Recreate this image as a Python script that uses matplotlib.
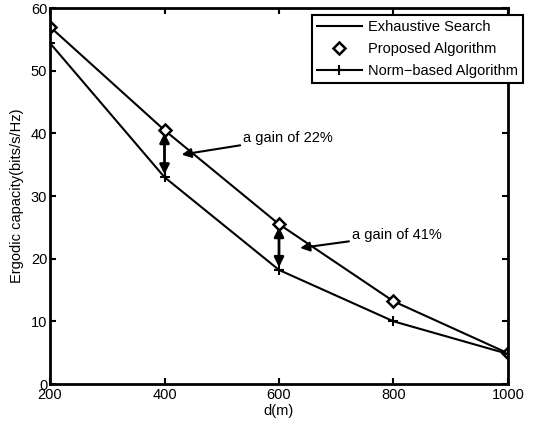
import matplotlib
matplotlib.use("Agg")
import matplotlib.pyplot as plt

d = [200, 400, 600, 800, 1000]
exhaustive = [57.0, 40.5, 25.5, 13.2, 4.9]
proposed = [57.0, 40.5, 25.5, 13.2, 4.9]
norm_based = [54.4, 33.0, 18.2, 10.0, 4.8]

plt.rcParams['font.family'] = ['Liberation Sans', 'DejaVu Sans']
fig = plt.figure(figsize=(5.43, 4.26), dpi=100)
ax = fig.add_axes([50/543, 1-384/426, 458/543, 376/426])

ax.plot(d, exhaustive, color='black', lw=1.5, label='Exhaustive Search')
ax.plot(d, proposed, linestyle='none', marker='D', markersize=6, markerfacecolor='white',
        markeredgecolor='black', markeredgewidth=1.8, label='Proposed Algorithm')
ax.plot(d, norm_based, color='black', lw=1.5, marker='+', markersize=7, markeredgewidth=1.5,
        label='Norm\u2212based Algorithm')

ax.set_xlim(200, 1000)
ax.set_ylim(0, 60)
ax.set_xticks(d)
ax.set_yticks([0, 10, 20, 30, 40, 50, 60])
ax.tick_params(direction='in', length=4, width=1.5, labelsize=10.5, top=True, right=True, pad=2)
ax.tick_params(axis='x', pad=3)
for s in ax.spines.values():
    s.set_linewidth(2)
ax.set_xlabel('d(m)', fontsize=10.5, labelpad=1)
ax.set_ylabel('Ergodic capacity(bits/s/Hz)', fontsize=10.5, labelpad=5)

# double arrows
ax.annotate('', xy=(400, norm_based[1]), xytext=(400, exhaustive[1]),
            arrowprops=dict(arrowstyle='<|-|>', color='black', lw=2, mutation_scale=14))
ax.annotate('', xy=(600, norm_based[2]), xytext=(600, exhaustive[2]),
            arrowprops=dict(arrowstyle='<|-|>', color='black', lw=2, mutation_scale=14))

ax.annotate('a gain of 22%', xy=(430, 36.6), xytext=(537, 39.3), fontsize=10.5,
            va='center', ha='left',
            arrowprops=dict(arrowstyle='-|>', color='black', lw=1.5, mutation_scale=14, shrinkA=0, shrinkB=0))
ax.annotate('a gain of 41%', xy=(637, 21.7), xytext=(727, 23.8), fontsize=10.5,
            va='center', ha='left',
            arrowprops=dict(arrowstyle='-|>', color='black', lw=1.5, mutation_scale=14, shrinkA=0, shrinkB=0))

leg = ax.legend(loc='upper right', bbox_to_anchor=(523/543, 1-15/426), bbox_transform=fig.transFigure,
                fontsize=10.5, frameon=True, fancybox=False, handlelength=3.1, borderpad=0.35,
                labelspacing=0.55, handletextpad=0.4, borderaxespad=0)
leg.get_frame().set_edgecolor('black')
leg.get_frame().set_linewidth(1.5)
leg.get_frame().set_alpha(1)

fig.savefig('out.png', dpi=100)
